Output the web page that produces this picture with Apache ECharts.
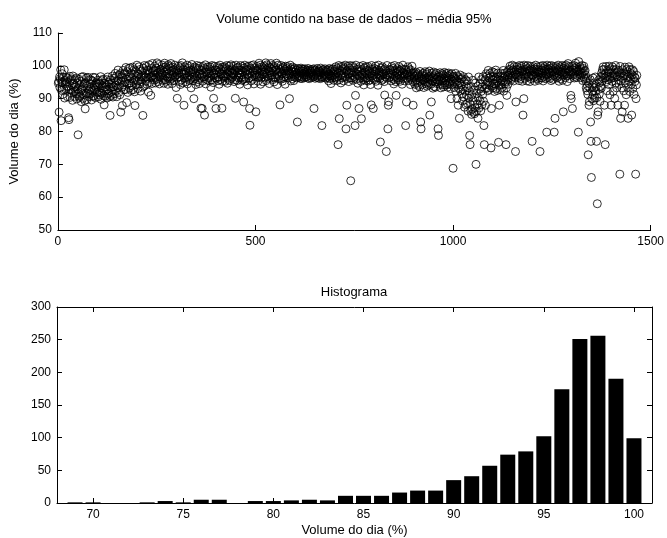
<!DOCTYPE html>
<html lang="pt">
<head>
<meta charset="UTF-8">
<title>Volume contido na base de dados</title>
<script src="https://cdn.jsdelivr.net/npm/echarts@6/dist/echarts.min.js"></script>
<style>
  html, body { margin: 0; padding: 0; background: #fff; }
  #main { width: 667px; height: 538px; }
</style>
</head>
<body>
<div id="main"></div>
<script>
// volume do dia (%), um valor por dia (dia = posição + 1)
var volumeDia = [
  94.7,95.2,85.9,96.6,93.4,96.1,98.8,83.3,92.5,95.0,97.6,91.3,94.9,96.4,92.7,98.8,90.2,95.5,94.6,92.9,
  96.5,93.8,95.1,90.6,96.3,93.7,84.2,83.6,92.9,96.8,90.4,95.5,92.6,96.0,91.7,94.3,89.5,96.9,92.1,94.6,
  93.4,90.7,95.8,92.2,93.6,91.5,96.3,89.9,94.7,93.0,79.0,91.6,95.9,90.4,94.2,90.8,95.3,92.5,89.1,96.6,
  92.8,93.5,90.1,96.7,93.9,91.2,94.6,89.4,86.9,94.8,91.6,96.3,89.7,93.1,91.5,96.5,94.0,90.6,92.3,95.8,
  91.4,94.6,92.8,95.7,89.6,92.3,95.4,90.7,96.5,93.2,90.8,94.1,92.7,96.4,90.3,93.6,94.8,91.9,94.4,92.0,
  95.6,90.5,93.7,94.8,91.1,94.5,91.8,96.7,89.8,93.3,95.5,91.6,94.0,95.9,92.4,90.9,88.1,94.7,93.5,90.7,
  94.3,92.6,95.8,90.2,92.9,96.6,91.4,95.0,91.7,94.5,90.6,84.9,95.7,93.4,91.0,94.8,92.2,96.9,90.5,93.7,
  93.6,96.2,91.5,94.9,97.7,92.4,94.1,96.8,90.6,95.5,93.3,98.7,95.4,91.9,97.2,93.8,91.2,97.6,85.9,95.3,
  96.7,93.5,87.9,96.3,98.6,94.2,92.7,97.8,95.1,97.4,92.8,99.5,95.9,88.8,94.6,98.2,91.9,96.5,99.2,94.7,
  93.2,96.6,99.4,94.8,92.5,97.7,96.1,93.9,99.6,92.7,97.3,95.5,98.8,92.1,87.9,95.7,98.4,94.3,96.9,100.2,
  95.4,97.6,93.1,97.3,99.7,95.8,94.5,98.9,92.3,96.6,95.2,98.4,96.7,93.5,84.9,99.3,97.0,93.8,100.1,96.4,
  97.8,95.3,96.6,99.8,94.4,98.7,96.2,98.5,92.0,97.4,100.3,94.9,97.7,96.5,91.0,99.2,96.8,94.6,100.7,98.1,
  96.3,98.6,97.2,95.7,99.9,98.4,94.8,96.5,99.3,95.9,100.9,97.6,95.2,97.9,100.4,96.7,94.5,98.8,97.1,98.3,
  98.9,96.4,97.7,100.2,95.6,97.3,99.5,94.7,98.1,100.8,95.8,96.9,99.7,95.3,98.5,99.1,96.6,94.4,100.3,96.2,
  97.6,99.8,95.4,96.7,99.3,100.7,96.1,98.4,94.6,99.6,97.2,98.8,95.5,97.9,96.4,100.2,96.8,99.1,93.4,98.3,
  97.3,90.1,98.7,96.5,99.9,97.8,95.2,96.6,99.4,94.3,100.1,95.7,98.2,97.5,100.9,94.8,98.9,97.6,88.0,96.2,
  99.7,97.4,95.1,98.6,97.9,96.3,100.2,94.5,96.8,99.2,98.4,95.6,99.8,97.1,95.9,98.7,93.3,97.7,100.4,96.5,
  98.2,95.5,98.8,90.0,96.7,99.6,96.1,97.8,94.3,99.3,96.9,100.1,95.2,98.6,95.8,99.1,97.4,94.6,99.9,97.6,
  96.4,87.1,98.7,97.2,87.0,95.3,99.8,97.7,96.6,99.2,85.0,96.8,100.3,94.5,98.1,95.9,98.9,97.4,95.6,99.7,
  97.8,96.3,99.1,95.4,99.7,96.8,93.5,98.3,95.7,100.1,98.6,97.2,94.9,90.1,97.6,99.9,96.4,98.8,97.3,87.0,
  98.7,96.2,97.9,99.8,95.5,96.6,99.3,94.4,98.2,100.2,95.8,98.9,97.4,97.7,87.1,95.3,99.6,96.9,99.1,96.5,
  98.4,99.7,95.3,96.8,99.2,96.4,100.1,97.6,94.7,97.3,98.8,95.9,99.9,98.2,95.5,98.6,97.1,100.3,96.2,97.8,
  99.1,96.6,97.7,99.9,97.3,95.2,98.8,98.4,90.1,95.7,100.2,96.9,99.4,95.5,97.9,99.6,96.3,98.7,97.2,94.4,
  97.8,100.1,96.4,98.7,97.2,95.6,99.8,98.3,95.9,89.0,99.3,96.7,100.2,95.3,98.5,96.1,98.9,99.7,97.4,94.2,
  98.8,97.3,99.9,96.2,87.0,81.9,97.7,99.2,95.4,100.1,96.8,98.3,95.9,98.6,100.3,94.5,97.1,99.4,97.8,96.6,
  86.0,98.7,97.2,99.8,98.4,95.3,99.1,96.5,100.8,96.9,97.7,100.2,94.4,98.9,96.3,98.2,99.7,97.5,95.1,99.3,
  97.4,99.9,98.1,96.6,98.8,100.9,95.5,97.7,100.3,96.8,99.2,96.2,98.5,99.7,94.6,97.1,99.4,97.9,100.7,96.3,
  98.9,97.2,100.1,95.8,98.3,99.4,95.1,99.8,96.7,98.6,96.4,98.8,100.8,97.3,94.3,97.7,100.2,96.1,99.1,96.9,
  98.2,88.1,98.8,95.9,100.1,97.4,97.8,95.3,99.3,99.7,96.2,98.5,96.7,98.9,94.4,99.9,97.6,96.4,99.2,97.1,
  99.8,98.3,96.3,98.7,97.4,90.0,97.9,100.2,95.4,99.1,96.8,98.4,96.1,99.6,98.9,97.2,95.5,98.1,99.3,96.5,
  98.1,97.4,98.8,96.3,97.7,82.9,96.9,99.2,96.5,98.3,98.9,97.1,96.2,97.8,99.3,96.7,98.5,96.1,99.0,97.6,
  98.4,98.9,96.4,97.2,99.1,97.9,96.6,97.3,98.7,98.2,96.8,96.3,99.2,98.5,97.5,96.1,97.8,98.8,97.0,98.3,
  96.4,97.7,98.9,97.2,98.3,96.6,99.1,87.0,96.9,98.5,96.2,98.7,97.4,97.9,96.5,99.2,98.1,97.0,96.3,98.4,
  98.8,97.3,98.2,96.1,99.3,97.8,96.7,81.8,96.4,98.6,98.9,97.1,97.7,96.5,97.4,99.1,98.3,96.2,96.9,98.7,
  98.1,96.4,98.8,97.3,95.4,97.6,99.2,96.1,97.0,98.4,94.6,98.9,96.8,96.3,97.9,99.1,97.2,95.6,98.3,96.6,
  98.9,97.4,99.7,96.3,98.1,95.5,99.2,96.7,76.0,97.8,100.1,83.9,95.8,98.6,97.1,94.8,99.8,98.3,96.4,99.1,
  97.3,99.8,95.4,97.9,99.2,96.5,100.2,96.8,80.8,98.4,88.0,98.7,96.1,99.9,97.5,95.2,97.7,99.3,96.3,100.1,
  65.0,97.8,96.3,98.7,97.1,99.9,95.6,98.2,99.4,96.2,96.8,81.8,91.0,100.2,97.6,95.9,98.9,97.3,94.7,98.4,
  99.1,87.0,96.9,99.8,96.4,98.3,95.3,83.9,98.8,97.2,97.7,100.1,95.8,94.2,99.3,96.7,98.1,96.2,99.7,95.5,
  97.9,96.3,98.7,97.2,99.8,95.4,98.4,96.8,99.1,95.7,94.3,97.6,88.1,100.1,96.9,98.9,96.2,87.0,98.3,97.4,
  99.2,95.8,98.3,99.9,95.3,96.7,98.8,97.6,96.4,94.1,100.2,97.1,98.6,98.1,96.2,76.8,96.9,99.3,95.5,97.8,
  99.7,97.3,95.9,98.8,97.6,95.2,91.1,99.1,96.7,98.4,73.9,96.3,100.1,97.2,80.8,88.0,89.1,97.8,96.5,98.9,
  97.1,98.8,95.4,97.7,99.8,96.2,97.4,99.2,98.3,94.5,95.8,100.1,96.8,98.6,95.2,91.0,97.9,96.4,99.1,97.3,
  98.2,95.7,99.8,96.9,98.7,95.3,98.4,96.3,97.2,99.1,94.4,97.8,100.2,96.1,96.8,98.9,97.6,95.4,97.3,81.8,
  98.8,89.0,96.2,97.9,97.3,99.7,95.5,99.1,96.8,96.4,98.2,94.3,98.7,97.1,95.9,99.9,97.7,95.2,88.0,96.9,
  96.3,97.8,94.4,96.9,95.2,98.1,93.3,95.7,97.2,94.8,97.6,94.1,96.5,96.8,93.6,98.3,95.4,82.9,80.8,96.1,
  97.2,94.3,95.8,97.7,95.5,93.4,96.8,96.2,98.2,94.6,95.1,97.4,96.3,93.8,97.9,94.9,96.7,94.2,95.9,98.4,
  85.0,95.8,96.9,94.4,89.0,97.7,95.3,96.4,93.2,96.8,98.1,93.7,96.2,95.1,97.3,93.5,97.8,95.9,94.6,96.6,
  95.2,80.8,78.8,96.7,95.8,94.4,97.9,95.5,93.3,96.9,96.1,97.6,94.2,95.4,97.2,93.6,96.3,98.0,94.8,94.1,
  96.8,95.3,97.7,94.2,96.4,93.5,96.9,94.7,97.8,96.1,94.4,97.3,95.2,93.1,90.0,95.9,97.6,94.3,96.7,68.8,
  95.3,96.8,93.4,96.2,94.6,97.7,92.3,95.8,95.1,90.0,96.9,94.2,88.0,96.4,93.1,84.0,94.8,97.2,92.5,95.9,
  94.2,91.4,96.1,89.3,92.8,96.7,90.5,95.2,87.4,92.3,95.8,88.2,93.7,91.1,95.4,88.6,93.3,86.2,96.6,90.1,
  92.4,78.8,76.0,88.3,86.4,93.7,85.2,91.1,86.8,95.6,89.3,85.9,92.7,85.4,90.2,87.3,94.8,70.0,86.1,91.6,
  88.4,93.8,84.0,90.3,96.6,87.2,92.9,89.4,94.7,86.3,92.2,95.8,88.1,93.6,91.3,96.7,89.2,81.8,76.0,93.1,
  95.8,88.0,94.3,97.6,93.2,96.9,95.1,92.4,98.6,94.2,96.3,92.8,97.7,94.9,96.6,75.0,87.0,93.8,98.2,95.7,
  93.3,96.8,94.7,97.9,92.2,96.1,94.4,98.7,93.1,96.6,95.3,92.5,97.8,95.9,76.7,94.1,88.0,96.9,92.8,95.4,
  97.8,94.2,95.7,93.4,96.8,95.2,98.6,92.3,96.4,97.7,94.5,96.9,95.1,76.0,93.3,91.0,98.1,95.8,94.4,97.2,
  98.8,96.3,97.7,99.9,97.2,95.6,99.1,98.4,96.2,100.2,96.8,98.7,95.4,98.1,99.8,96.5,97.3,73.9,89.0,98.9,
  97.3,99.7,97.9,96.4,98.8,97.1,95.5,100.1,98.2,99.2,96.1,96.8,99.9,98.4,95.3,98.7,85.0,97.4,90.0,100.2,
  98.1,96.2,98.9,99.8,97.3,97.7,95.4,99.2,100.1,96.6,98.3,96.9,98.7,95.2,99.9,98.4,96.1,99.1,97.2,77.0,
  98.7,97.2,99.8,98.3,96.4,99.1,95.3,97.8,100.2,96.8,98.9,96.1,98.2,99.7,97.4,95.6,98.8,97.9,96.3,73.9,
  98.2,99.9,97.1,98.7,96.3,97.8,100.1,95.4,99.2,96.8,98.4,99.8,96.1,98.9,97.3,97.7,79.8,100.2,96.4,99.1,
  97.4,98.8,98.1,99.9,96.2,97.7,99.3,95.5,100.1,96.9,98.6,98.2,95.9,99.8,97.1,79.8,98.3,84.0,99.2,96.7,
  99.8,97.9,96.3,98.7,97.2,100.2,98.4,95.3,99.1,96.8,99.7,96.1,98.2,98.9,97.4,100.1,95.6,97.8,86.0,99.3,
  97.3,99.9,98.2,96.4,98.8,100.2,96.9,97.7,95.2,99.1,100.7,97.1,98.3,99.8,96.1,98.6,97.4,91.0,90.0,98.1,
  99.9,87.0,97.2,98.8,97.7,100.1,96.3,99.2,96.8,100.8,98.2,99.7,96.4,98.9,97.1,98.3,79.8,101.3,98.7,97.4,
  99.8,98.2,96.4,98.9,97.3,100.1,97.8,95.5,99.2,96.7,99.9,98.3,96.1,98.6,97.2,95.4,93.3,96.2,92.4,93.9,
  91.3,72.9,94.7,88.0,89.1,93.2,95.8,82.9,77.0,66.0,90.0,93.6,92.2,96.3,91.1,89.4,94.8,93.3,90.2,96.6,
  92.3,93.7,77.0,90.3,58.0,85.0,86.0,92.8,95.7,91.4,94.9,89.2,93.8,96.7,93.2,97.8,95.3,98.8,96.2,99.7,
  97.2,98.9,88.0,96.3,76.0,97.7,99.8,95.2,96.8,92.4,98.7,95.8,98.2,94.3,99.9,96.6,91.2,99.1,96.1,88.0,
  97.8,95.3,99.7,96.9,92.2,98.8,96.4,97.7,90.1,97.2,100.1,94.8,98.9,93.3,96.7,98.2,88.0,95.8,98.6,94.4,
  97.1,67.0,99.8,84.0,95.4,97.8,93.3,86.0,98.8,96.2,96.9,92.4,97.7,88.0,99.6,94.8,97.3,91.2,98.9,96.4,
  98.2,93.4,84.0,96.8,99.7,95.3,92.2,98.9,96.1,97.7,94.3,85.0,97.2,98.8,93.1,95.9,98.3,91.3,96.7,95.2,
  96.3,67.0,90.0,94.2,97.1
];

// histograma: centro de cada classe (%) e número de dias
var binCentros = [69,70,71,72,73,74,75,76,77,78,79,80,81,82,83,84,
                  85,86,87,88,89,90,91,92,93,94,95,96,97,98,99,100];
var binContagens = [1,1,0,0,1,3,1,5,5,0,3,3,4,5,4,11,
                    11,11,16,19,19,35,41,57,74,79,102,174,251,256,190,99];
var histTicks = [70,75,80,85,90,95,100];

var pontos = volumeDia.map(function (v, i) { return [i + 1, v]; });
var barras = binCentros.map(function (c, i) { return [c, binContagens[i]]; });

var fonte = '"Liberation Sans", Arial, Helvetica, sans-serif';
var preto = '#000';

function eixo(extra) {
    var base = {
        type: 'value',
        axisLine: { show: true, onZero: false, lineStyle: { color: preto, width: 1 } },
        axisTick: { show: true, inside: true, length: 5, lineStyle: { color: preto } },
        axisLabel: { color: preto, fontSize: 12, fontFamily: fonte, margin: 6,
                     formatter: function (v) { return String(v); } },
        splitLine: { show: false },
        nameTextStyle: { color: preto, fontSize: 13, fontFamily: fonte }
    };
    return Object.assign(base, extra);
}

var myChart = echarts.init(document.getElementById('main'));
var option = {
    backgroundColor: '#fff',
    animation: false,
    graphic: [
        { type: 'text', x: 354, y: 19, silent: true,
          style: { text: 'Volume contido na base de dados – média 95%', fill: preto,
                   font: '13px ' + fonte, align: 'center', verticalAlign: 'middle' } },
        { type: 'text', x: 354, y: 292, silent: true,
          style: { text: 'Histograma', fill: preto,
                   font: '13px ' + fonte, align: 'center', verticalAlign: 'middle' } }
    ],
    grid: [
        { left: 57, right: 15, top: 33, height: 197 },
        { left: 57, right: 15, top: 307, height: 196 }
    ],
    xAxis: [
        eixo({ gridIndex: 0, min: 0, max: 1500, interval: 500 }),
        eixo({ gridIndex: 1, min: 68, max: 101, position: 'bottom',
               axisTick: { show: true, inside: true, length: 5, customValues: histTicks, lineStyle: { color: preto } },
               axisLabel: { color: preto, fontSize: 12, fontFamily: fonte, margin: 6, customValues: histTicks },
               name: 'Volume do dia (%)', nameLocation: 'middle', nameGap: 21 }),
        eixo({ gridIndex: 1, min: 68, max: 101, position: 'top',
               axisTick: { show: true, inside: true, length: 5, customValues: histTicks, lineStyle: { color: preto } },
               axisLabel: { show: false } })
    ],
    yAxis: [
        eixo({ gridIndex: 0, min: 50, max: 110, interval: 10,
               name: 'Volume do dia (%)', nameLocation: 'middle', nameGap: 26 }),
        eixo({ gridIndex: 1, min: 0, max: 300, interval: 50, position: 'left' }),
        eixo({ gridIndex: 1, min: 0, max: 300, interval: 50, position: 'right',
               axisLabel: { show: false } })
    ],
    series: [
        {
            type: 'scatter', xAxisIndex: 0, yAxisIndex: 0,
            data: pontos, symbol: 'circle', symbolSize: 8, silent: true,
            itemStyle: { color: 'rgba(0,0,0,0)', borderColor: preto, borderWidth: 1 }
        },
        {
            type: 'bar', xAxisIndex: 1, yAxisIndex: 1,
            data: barras, barWidth: 15, silent: true,
            itemStyle: { color: preto }
        }
    ]
};
myChart.setOption(option);
</script>
</body>
</html>
